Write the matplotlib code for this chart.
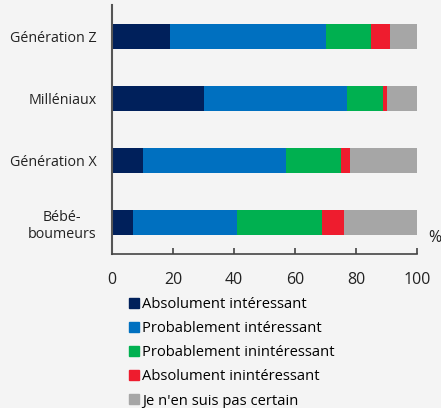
import numpy as np
import matplotlib.pyplot as plt
from matplotlib.lines import Line2D

plt.rcParams['font.family'] = ['Open Sans', 'DejaVu Sans']

# groups, top to bottom
groups = ['Génération Z', 'Milléniaux', 'Génération X', 'Bébé-\nboumeurs']
series = ['Absolument intéressant', 'Probablement intéressant',
          'Probablement inintéressant', 'Absolument inintéressant',
          'Je n\'en suis pas certain']
colors = ['#00205b', '#0070c0', '#00b050', '#ee1c2e', '#a6a6a6']

abs_int = [19, 30, 10, 7]
prob_int = [51, 47, 47, 34]
prob_inint = [15, 12, 18, 28]
abs_inint = [6, 1, 3, 7]
unsure = [9, 10, 22, 24]
values = [abs_int, prob_int, prob_inint, abs_inint, unsure]

bg = '#f4f4f4'
fig = plt.figure(figsize=(4.41, 4.08), dpi=100, facecolor=bg)
ax = fig.add_axes([0.254, 0.3775, 0.6916, 0.6102], facecolor=bg)

y = np.arange(len(groups))
left = np.zeros(len(groups))
for vals, col, name in zip(values, colors, series):
    ax.barh(y, vals, left=left, height=0.4, color=col, label=name)
    left += np.array(vals)

ax.set_xlim(0, 100)
ax.set_ylim(3.5, -0.5)
ax.set_yticks(y)
ax.set_yticklabels(groups, fontsize=10.3, color='#222222')
for t in ax.get_yticklabels():
    t.set_multialignment('center')
ax.set_xticks([0, 20, 40, 60, 80, 100])
ax.tick_params(axis='x', direction='in', length=4, width=1.2, color='#444444',
               labelsize=11.5, pad=13, labelcolor='#222222')
ax.tick_params(axis='y', length=0, pad=11)

for s in ['top', 'right']:
    ax.spines[s].set_visible(False)
ax.spines['left'].set_color('#555555')
ax.spines['left'].set_linewidth(1.5)
ax.spines['bottom'].set_color('#444444')
ax.spines['bottom'].set_linewidth(1.2)

fig.text(428 / 441, 1 - 238 / 408, '%', fontsize=11.5, va='center',
         ha='left', color='#222222')

handles = [Line2D([], [], marker='s', linestyle='none', markersize=6.5,
                  color=c) for c in colors]
fig.legend(handles, series, loc='upper left',
           bbox_to_anchor=(130 / 441, 1 - 297 / 408), frameon=False,
           fontsize=10.6, handlelength=0.5, handletextpad=0.3,
           labelspacing=0.62, borderpad=0, borderaxespad=0)

fig.savefig('out.png', dpi=100, facecolor=bg)
